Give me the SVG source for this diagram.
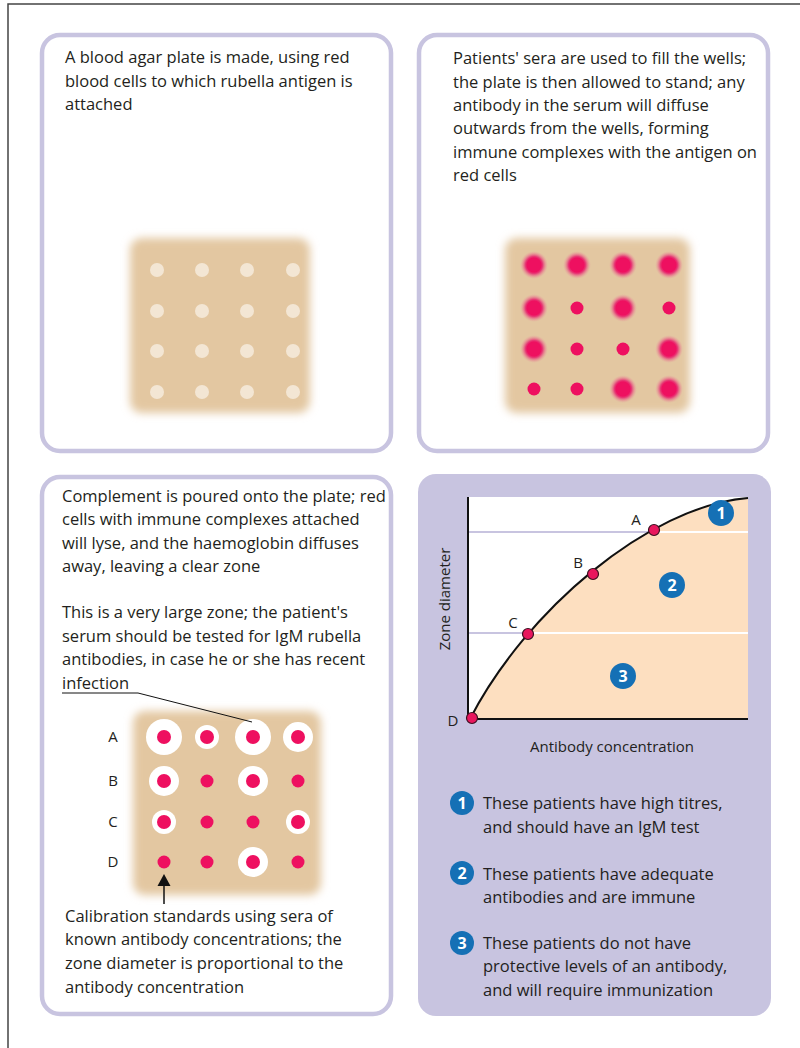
<svg xmlns="http://www.w3.org/2000/svg" width="800" height="1048" viewBox="0 0 800 1048">
  <defs>
    <style>
      .txt { font-family: "Open Sans", "Liberation Sans", sans-serif; font-size: 16.5px; fill: #231f20; }
      .lbl { font-family: "Open Sans", "Liberation Sans", sans-serif; font-size: 15px; fill: #231f20; }
      .panel { fill: #ffffff; stroke: #c8c4e0; stroke-width: 4.5; }
      .plate { fill: #e3c7a1; filter: url(#soft); }
      .well { fill: #f3e6d4; }
      .red { fill: #ee1060; }
      .halo { fill: #ffffff; }
      .badge { fill: #1570b5; }
      .num { font-family: "Open Sans", "Liberation Sans", sans-serif; font-size: 16px; font-weight: bold; fill: #ffffff; text-anchor: middle; }
      .pt { fill: #e8175d; stroke: #3a1020; stroke-width: 1.2; }
    </style>
    <filter id="soft" x="-20%" y="-20%" width="140%" height="140%">
      <feGaussianBlur stdDeviation="4"/>
    </filter>
    <radialGradient id="glow">
      <stop offset="0.5" stop-color="#ee1060"/>
      <stop offset="0.62" stop-color="#e63c76"/>
      <stop offset="1" stop-color="#e8a0a0" stop-opacity="0"/>
    </radialGradient>
  </defs>

  <!-- outer frame -->
  <path d="M8 1048 V4 H800" fill="none" stroke="#444" stroke-width="1.5"/>

  <!-- panel 1: blank agar plate -->
  <g id="panel-plate">
    <rect class="panel" x="42" y="35" width="349" height="416" rx="18"/>
    <text class="txt" x="65" y="63">A blood agar plate is made, using red</text>
    <text class="txt" x="65" y="87">blood cells to which rubella antigen is</text>
    <text class="txt" x="65" y="110">attached</text>
    <rect class="plate" x="130" y="238" width="180" height="175" rx="12"/>
    <g class="well">
      <circle cx="157" cy="270" r="7"/><circle cx="202" cy="270" r="7"/><circle cx="247" cy="270" r="7"/><circle cx="293" cy="270" r="7"/>
      <circle cx="157" cy="311" r="7"/><circle cx="202" cy="311" r="7"/><circle cx="247" cy="311" r="7"/><circle cx="293" cy="311" r="7"/>
      <circle cx="157" cy="351" r="7"/><circle cx="202" cy="351" r="7"/><circle cx="247" cy="351" r="7"/><circle cx="293" cy="351" r="7"/>
      <circle cx="157" cy="392" r="7"/><circle cx="202" cy="392" r="7"/><circle cx="247" cy="392" r="7"/><circle cx="293" cy="392" r="7"/>
    </g>
  </g>

  <!-- panel 2: sera in wells -->
  <g id="panel-sera">
    <rect class="panel" x="419" y="35" width="349" height="416" rx="18"/>
    <text class="txt" x="453" y="64">Patients' sera are used to fill the wells;</text>
    <text class="txt" x="453" y="88">the plate is then allowed to stand; any</text>
    <text class="txt" x="453" y="111">antibody in the serum will diffuse</text>
    <text class="txt" x="453" y="134">outwards from the wells, forming</text>
    <text class="txt" x="453" y="158">immune complexes with the antigen on</text>
    <text class="txt" x="453" y="181">red cells</text>
    <rect class="plate" x="505" y="238" width="185" height="175" rx="12"/>
    <g fill="url(#glow)">
      <circle cx="534" cy="265" r="14"/><circle cx="577" cy="265" r="14"/><circle cx="623" cy="265" r="14"/><circle cx="669" cy="265" r="14"/>
      <circle cx="534" cy="308" r="14"/><circle cx="623" cy="308" r="14"/>
      <circle cx="534" cy="349" r="14"/><circle cx="669" cy="349" r="14"/>
      <circle cx="623" cy="389" r="14"/><circle cx="669" cy="389" r="14"/>
    </g>
    <g class="red">
      <circle cx="577" cy="308" r="6.5"/><circle cx="669" cy="308" r="6.5"/>
      <circle cx="577" cy="349" r="6.5"/><circle cx="623" cy="349" r="6.5"/>
      <circle cx="534" cy="389" r="6.5"/><circle cx="577" cy="389" r="6.5"/>
    </g>
  </g>

  <!-- panel 3: complement and clear zones -->
  <g id="panel-zones">
    <rect class="panel" x="42" y="477" width="349" height="537" rx="18"/>
    <text class="txt" x="62" y="502">Complement is poured onto the plate; red</text>
    <text class="txt" x="62" y="525">cells with immune complexes attached</text>
    <text class="txt" x="62" y="549">will lyse, and the haemoglobin diffuses</text>
    <text class="txt" x="62" y="572">away, leaving a clear zone</text>
    <text class="txt" x="62" y="618">This is a very large zone; the patient's</text>
    <text class="txt" x="62" y="642">serum should be tested for IgM rubella</text>
    <text class="txt" x="62" y="665">antibodies, in case he or she has recent</text>
    <text class="txt" x="62" y="689">infection</text>
    <rect class="plate" x="133" y="711" width="188" height="184" rx="12"/>
    <g class="halo">
      <circle cx="164" cy="737" r="18"/><circle cx="207" cy="737" r="12"/><circle cx="253" cy="737" r="18"/><circle cx="298" cy="737" r="15"/>
      <circle cx="164" cy="781" r="15"/><circle cx="253" cy="781" r="15"/>
      <circle cx="164" cy="822" r="12"/><circle cx="298" cy="822" r="12"/>
      <circle cx="253" cy="862" r="15"/>
    </g>
    <g class="red">
      <circle cx="164" cy="737" r="7"/><circle cx="207" cy="737" r="7"/><circle cx="253" cy="737" r="7"/><circle cx="298" cy="737" r="7"/>
      <circle cx="164" cy="781" r="7"/><circle cx="207" cy="781" r="6.5"/><circle cx="253" cy="781" r="7"/><circle cx="298" cy="781" r="6.5"/>
      <circle cx="164" cy="822" r="7"/><circle cx="207" cy="822" r="6.5"/><circle cx="253" cy="822" r="6.5"/><circle cx="298" cy="822" r="7"/>
      <circle cx="164" cy="862" r="6.5"/><circle cx="207" cy="862" r="6.5"/><circle cx="253" cy="862" r="7"/><circle cx="298" cy="862" r="6.5"/>
    </g>
    <text class="lbl" x="113" y="742" text-anchor="middle">A</text>
    <text class="lbl" x="113" y="786" text-anchor="middle">B</text>
    <text class="lbl" x="113" y="827" text-anchor="middle">C</text>
    <text class="lbl" x="113" y="867" text-anchor="middle">D</text>
    <text class="txt" x="65" y="922">Calibration standards using sera of</text>
    <text class="txt" x="65" y="945">known antibody concentrations; the</text>
    <text class="txt" x="65" y="969">zone diameter is proportional to the</text>
    <text class="txt" x="65" y="993">antibody concentration</text>
  </g>

  <!-- panel 4: zone diameter graph and key -->
  <g id="panel-graph">
    <rect x="418" y="474" width="353" height="542" rx="18" fill="#c8c4e0"/>
    <rect x="468" y="497" width="280" height="222" fill="#ffffff"/>
    <line x1="468" y1="532" x2="654" y2="532" stroke="#c8c4e0" stroke-width="2"/>
    <line x1="468" y1="633" x2="528" y2="633" stroke="#c8c4e0" stroke-width="2"/>
    <path d="M470 719 C525 612 648 506 748 498 V719 Z" fill="#fddfc0"/>
    <line x1="654" y1="532" x2="748" y2="532" stroke="#ffffff" stroke-width="2"/>
    <line x1="528" y1="633" x2="748" y2="633" stroke="#ffffff" stroke-width="2"/>
    <path d="M470 719 C525 612 648 506 748 498" fill="none" stroke="#111" stroke-width="2"/>
    <path d="M468 497 V719 H748" fill="none" stroke="#111" stroke-width="2"/>
    <circle class="pt" cx="472" cy="718" r="5.5"/>
    <circle class="pt" cx="528" cy="634" r="5.5"/>
    <circle class="pt" cx="593" cy="574" r="5.5"/>
    <circle class="pt" cx="654" cy="530" r="5.5"/>
    <text class="lbl" x="636" y="525" text-anchor="middle">A</text>
    <text class="lbl" x="578" y="568" text-anchor="middle">B</text>
    <text class="lbl" x="513" y="628" text-anchor="middle">C</text>
    <text class="lbl" x="453" y="726" text-anchor="middle">D</text>
    <circle class="badge" cx="721" cy="513" r="13"/><text class="num" x="721" y="518.5">1</text>
    <circle class="badge" cx="672" cy="585" r="13"/><text class="num" x="672" y="590.5">2</text>
    <circle class="badge" cx="623" cy="676" r="13"/><text class="num" x="623" y="681.5">3</text>
    <text class="lbl" transform="translate(450 599) rotate(-90)" text-anchor="middle" font-size="16">Zone diameter</text>
    <text class="lbl" x="612" y="752" text-anchor="middle" font-size="16">Antibody concentration</text>

    <circle class="badge" cx="462" cy="803" r="12"/><text class="num" x="462" y="808.5">1</text>
    <text class="txt" x="483" y="809">These patients have high titres,</text>
    <text class="txt" x="483" y="833">and should have an IgM test</text>
    <circle class="badge" cx="462" cy="873" r="12"/><text class="num" x="462" y="878.5">2</text>
    <text class="txt" x="483" y="880">These patients have adequate</text>
    <text class="txt" x="483" y="903">antibodies and are immune</text>
    <circle class="badge" cx="462" cy="943" r="12"/><text class="num" x="462" y="948.5">3</text>
    <text class="txt" x="483" y="949">These patients do not have</text>
    <text class="txt" x="483" y="972">protective levels of an antibody,</text>
    <text class="txt" x="483" y="996">and will require immunization</text>
  </g>

  <!-- connectors: leader to the large zone and calibration arrow -->
  <g id="connectors" fill="none" stroke="#111" stroke-width="1">
    <polyline points="62,693 138,693 252,722"/>
    <line x1="164" y1="904" x2="164" y2="884" stroke-width="1.5"/>
    <polygon points="164,874 157.5,886 170.5,886" fill="#111" stroke="none"/>
  </g>
</svg>
